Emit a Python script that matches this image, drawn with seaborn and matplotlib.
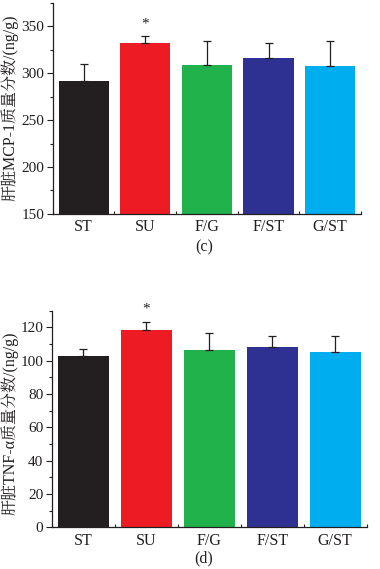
import numpy as np
import pandas as pd
import matplotlib
matplotlib.use("Agg")
import matplotlib.pyplot as plt
import seaborn as sns
from matplotlib.ticker import MultipleLocator, FixedLocator

groups = ["ST", "SU", "F/G", "F/ST", "G/ST"]
colors = ["#231f20", "#ed1c24", "#22b24c", "#2e3192", "#00aeef"]

mcp1_mean = [292, 332, 308.5, 316.5, 307.5]
mcp1_err = [18, 7.5, 26, 16, 27]

tnf_mean = [102.8, 118.4, 106.4, 108, 105]
tnf_err = [4, 5, 10, 7, 10]

sig_marks = ["", "*", "", "", ""]

sns.set_theme(style="ticks")
plt.rcParams["font.family"] = ["Liberation Serif", "Noto Serif CJK SC", "Noto Sans CJK SC", "DejaVu Sans"]
plt.rcParams["axes.unicode_minus"] = False

fig = plt.figure(figsize=(3.8, 5.69), dpi=100)
ax1 = fig.add_axes([0.139, 0.624, 0.811, 0.371])
ax2 = fig.add_axes([0.136, 0.0733, 0.829, 0.3807])


def draw(ax, means, errs, ylim, major, minor, ylabel, star_off, lab_xy):
    df = pd.DataFrame({"group": groups, "value": means})
    sns.barplot(data=df, x="group", y="value", hue="group", palette=colors,
                legend=False, errorbar=None, width=0.815, saturation=1,
                linewidth=0, ax=ax)
    x = np.arange(len(groups))
    ax.errorbar(x, means, yerr=[np.zeros(len(errs)), errs], fmt="none",
                ecolor="#231f20", elinewidth=0.9, capsize=3, capthick=0.9)
    for i, s in enumerate(sig_marks):
        if s:
            ax.text(x[i], means[i] + errs[i] + star_off, s, ha="center",
                    va="center", fontsize=11, color="#231f20")
    ax.set_xlim(-0.5, 4.5)
    ax.set_ylim(*ylim)
    ax.yaxis.set_major_locator(MultipleLocator(major))
    ax.yaxis.set_minor_locator(MultipleLocator(minor))
    ax.xaxis.set_minor_locator(FixedLocator(np.arange(-0.5, 4.6, 1.0)))
    ax.tick_params(axis="y", which="major", direction="out", length=4,
                   width=0.8, labelsize=11, pad=2, colors="#231f20")
    ax.tick_params(axis="y", which="minor", direction="out", length=2.5,
                   width=0.8, colors="#231f20")
    ax.tick_params(axis="x", which="major", direction="in", length=2.5,
                   width=0.8, labelsize=11.5, pad=4, colors="#231f20")
    ax.tick_params(axis="x", which="minor", direction="in", length=2,
                   width=0.8, colors="#231f20")
    sns.despine(ax=ax)
    for sp in ["left", "bottom"]:
        ax.spines[sp].set_linewidth(0.9)
        ax.spines[sp].set_color("#231f20")
    ax.set_xlabel("")
    ax.set_ylabel(ylabel, fontsize=11.5, color="#231f20", va="center")
    ax.yaxis.set_label_coords(*lab_xy)


draw(ax1, mcp1_mean, mcp1_err, (150, 375), 50, 25,
     "肝脏MCP-1质量分数/(ng/g)", 13, (-0.141, 0.505))
draw(ax2, tnf_mean, tnf_err, (0, 130), 20, 10,
     "肝脏TNF-α质量分数/(ng/g)", 7.5, (-0.134, 0.48))

fig.text(0.537, 0.566, "(c)", ha="center", va="center", fontsize=11.5, color="#231f20")
fig.text(0.537, 0.019, "(d)", ha="center", va="center", fontsize=11.5, color="#231f20")

fig.savefig("out.png", dpi=100)
